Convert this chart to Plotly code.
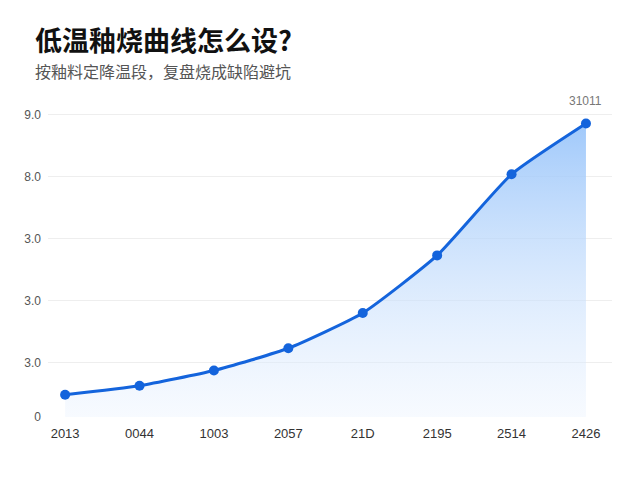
import plotly.graph_objects as go

# categories / values
x_labels = ['2013', '0044', '1003', '2057', '21D', '2195', '2514', '2426']
values = [3.6, 5.05, 7.5, 11.1, 16.8, 26.1, 39.2, 47.4]
y_tickvals = [0, 8.8, 18.8, 28.8, 38.8, 48.8]
y_ticktext = ['0', '3.0', '3.0', '3.0', '8.0', '9.0']
last_label = '31011'

xs = list(range(len(x_labels)))

fig = go.Figure()
fig.add_trace(go.Scatter(
    x=xs, y=values,
    mode='lines+markers',
    line=dict(color='#1464dc', width=3, shape='spline', smoothing=0.5),
    marker=dict(size=10, color='#1464dc'),
    fill='tozeroy',
    fillgradient=dict(type='vertical',
                      colorscale=[[0, 'rgba(235,243,254,0.4)'],
                                  [1, 'rgba(150,195,250,0.9)']]),
    hoverinfo='skip',
))

fig.add_annotation(x=xs[-1], y=values[-1], text=last_label, showarrow=False,
                   yshift=22, font=dict(size=12, color='#777777',
                                        family='Liberation Sans, Arial'))

# title + subtitle as paper annotations
fig.add_annotation(xref='paper', yref='paper', x=-0.027, y=1.173,
                   xanchor='left', yanchor='middle', showarrow=False,
                   text='<b>低温釉烧曲线怎么设?</b>',
                   font=dict(family='Noto Sans CJK SC', size=27, color='#111111'))
fig.add_annotation(xref='paper', yref='paper', x=-0.027, y=1.073,
                   xanchor='left', yanchor='middle', showarrow=False,
                   text='按釉料定降温段，复盘烧成缺陷避坑',
                   font=dict(family='Noto Sans CJK SC', size=16, color='#555555'))

fig.update_layout(
    width=640, height=480,
    margin=dict(l=48, r=28, t=95, b=63),
    paper_bgcolor='white', plot_bgcolor='white',
    showlegend=False,
    xaxis=dict(range=[-0.23, 7.35], tickvals=xs, ticktext=x_labels,
               showgrid=False, zeroline=False, showline=False, ticks='',
               ticklabelstandoff=7,
               tickfont=dict(family='Liberation Sans, Arial', size=13, color='#333333')),
    yaxis=dict(range=[0, 52], tickvals=y_tickvals, ticktext=y_ticktext,
               showgrid=True, gridcolor='#eeeeee', gridwidth=1,
               zeroline=False, showline=False, ticks='', ticklabelstandoff=6,
               automargin=False,
               tickfont=dict(family='Liberation Sans, Arial', size=12, color='#555555')),
)

fig.write_html('out.html', config={'displayModeBar': False},
               post_script="document.body.style.margin='0px';")
